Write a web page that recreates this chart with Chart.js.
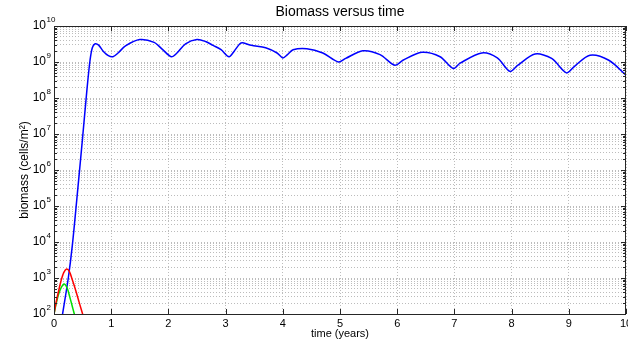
<!DOCTYPE html>
<html>
<head>
<meta charset="utf-8">
<script src="https://cdn.jsdelivr.net/npm/chart.js@4"></script>
<style>
  html, body { margin: 0; padding: 0; background: #fff; }
  #wrap { width: 628px; height: 346px; }
</style>
</head>
<body>
<div id="wrap"><canvas id="biomassChart"></canvas></div>
<script>
const fontFamily = "'Liberation Sans', Arial, Helvetica, sans-serif";

// axis ticks
const timeTicks = [0, 1, 2, 3, 4, 5, 6, 7, 8, 9, 10];
const decades = [2, 3, 4, 5, 6, 7, 8, 9, 10]; // exponents labelled on the log axis
const minorSteps = [1, 2, 3, 4, 5, 6, 7, 8, 9];

// blue population (cells/m^2)
const blueTime = [0.13, 0.15, 0.25, 0.32, 0.40, 0.50, 0.58, 0.63, 0.67, 0.72, 0.78, 0.86, 0.95, 1.03, 1.12, 1.25,
  1.5, 1.75, 1.9, 2.05, 2.15, 2.3, 2.5, 2.65, 2.78, 2.92, 3.06, 3.15, 3.25, 3.3, 3.45, 3.7, 3.9, 4.0, 4.08, 4.18,
  4.42, 4.7, 4.97, 5.1, 5.4, 5.7, 5.96, 6.1, 6.43, 6.75, 6.98, 7.1, 7.48, 7.75, 7.97, 8.1, 8.41, 8.7, 8.96, 9.1,
  9.37, 9.7, 10.0];
const blueBiomass = [63, 100, 1000, 7900, 1.6e5, 7.9e6, 2.0e8, 1.12e9, 2.5e9, 3.2e9, 2.95e9, 2.0e9, 1.5e9, 1.4e9, 1.78e9, 2.8e9,
  4.2e9, 3.5e9, 2.2e9, 1.4e9, 1.78e9, 3.2e9, 4.2e9, 3.7e9, 2.9e9, 2.2e9, 1.4e9, 2.0e9, 3.2e9, 3.4e9, 2.9e9, 2.5e9, 1.78e9, 1.3e9, 1.6e9, 2.2e9,
  2.35e9, 1.78e9, 1.0e9, 1.26e9, 2.05e9, 1.6e9, 8.1e8, 1.12e9, 1.86e9, 1.4e9, 6.6e8, 9.3e8, 1.78e9, 1.3e9, 5.5e8, 7.9e8, 1.66e9, 1.26e9, 5.0e8, 7.6e8,
  1.55e9, 1.12e9, 4.3e8];

// red population
const redTime = [0, 0.04, 0.075, 0.12, 0.17, 0.22, 0.27, 0.32, 0.38, 0.44, 0.5, 0.53];
const redBiomass = [100, 224, 400, 800, 1410, 1780, 1510, 890, 450, 210, 100, 63];

// green population
const greenTime = [0, 0.04, 0.08, 0.13, 0.18, 0.23, 0.28, 0.33, 0.355, 0.38];
const greenBiomass = [100, 200, 355, 560, 680, 525, 280, 141, 100, 71];

function toPoints(times, values) {
  return times.map((t, i) => ({ x: t, y: values[i] }));
}

function isDecade(v) {
  const e = Math.log10(v);
  return Math.abs(e - Math.round(e)) < 1e-9;
}

// MATLAB-like box, inward ticks, 10^n labels and title
const matlabAxes = {
  id: "matlabAxes",
  afterDraw(chart) {
    const { ctx, chartArea: a, scales } = chart;
    const x = scales.x, y = scales.y;
    ctx.save();
    ctx.strokeStyle = "#262626";
    ctx.lineWidth = 1;
    ctx.beginPath();
    y.ticks.forEach((t) => {
      const py = Math.round(y.getPixelForValue(t.value)) + 0.5;
      const len = isDecade(t.value) ? 5 : 3;
      ctx.moveTo(a.left, py); ctx.lineTo(a.left + len, py);
      ctx.moveTo(a.right, py); ctx.lineTo(a.right - len, py);
    });
    x.ticks.forEach((t) => {
      const px = Math.round(x.getPixelForValue(t.value)) + 0.5;
      ctx.moveTo(px, a.bottom); ctx.lineTo(px, a.bottom - 5);
      ctx.moveTo(px, a.top); ctx.lineTo(px, a.top + 5);
    });
    ctx.stroke();
    ctx.strokeRect(Math.round(a.left) + 0.5, Math.round(a.top) + 0.5,
      Math.round(a.right - a.left) - 1, Math.round(a.bottom - a.top));

    // y tick labels: 10 with exponent
    ctx.fillStyle = "#000";
    ctx.textBaseline = "middle";
    decades.forEach((e) => {
      const py = y.getPixelForValue(Math.pow(10, e));
      ctx.font = "12px " + fontFamily;
      ctx.textAlign = "right";
      ctx.fillText("10", a.left - 8, py);
      ctx.font = "8px " + fontFamily;
      ctx.textAlign = "left";
      ctx.fillText(String(e), a.left - 7.5, py - 6);
    });

    // title
    ctx.font = "14px " + fontFamily;
    ctx.textAlign = "center";
    ctx.fillText("Biomass versus time", (a.left + a.right) / 2, 12);
    ctx.restore();
  },
};

const gridColor = "#bcbcbc";

new Chart(document.getElementById("biomassChart").getContext("2d"), {
  type: "line",
  data: {
    datasets: [
      { label: "red", data: toPoints(redTime, redBiomass), borderColor: "#ff0000", borderWidth: 1.5, pointRadius: 0, tension: 0.3 },
      { label: "green", data: toPoints(greenTime, greenBiomass), borderColor: "#00e000", borderWidth: 1.5, pointRadius: 0, tension: 0.3 },
      { label: "blue", data: toPoints(blueTime, blueBiomass), borderColor: "#0000ff", borderWidth: 1.5, pointRadius: 0, tension: 0.3 },
    ],
  },
  options: {
    responsive: true,
    maintainAspectRatio: false,
    animation: false,
    layout: { padding: { top: 26, right: 2, left: 0, bottom: 0 } },
    plugins: {
      legend: { display: false },
      tooltip: { enabled: false },
      title: { display: false },
    },
    scales: {
      x: {
        type: "linear",
        min: 0,
        max: 10,
        afterBuildTicks: (scale) => {
          scale.ticks = timeTicks.map((v) => ({ value: v }));
        },
        afterFit: (scale) => {
          scale.height = 32;
          scale.paddingLeft = 0;
          scale.paddingRight = 0;
        },
        ticks: {
          color: "#000",
          font: { family: fontFamily, size: 11 },
          padding: 3,
          maxRotation: 0,
          autoSkip: false,
        },
        grid: { color: gridColor, drawTicks: false },
        border: { display: false, dash: [1, 2] },
        title: {
          display: true,
          text: "time (years)",
          color: "#000",
          font: { family: fontFamily, size: 11 },
          padding: { top: 0, bottom: 5 },
        },
      },
      y: {
        type: "logarithmic",
        min: 100,
        max: 1e10,
        afterBuildTicks: (scale) => {
          const ticks = [];
          decades.forEach((e) => {
            if (e === 10) { ticks.push({ value: 1e10 }); return; }
            minorSteps.forEach((m) => ticks.push({ value: m * Math.pow(10, e) }));
          });
          scale.ticks = ticks;
        },
        afterFit: (scale) => {
          scale.width = 54;
          scale.paddingTop = 0;
          scale.paddingBottom = 0;
        },
        ticks: { display: false },
        grid: { color: gridColor, drawTicks: false },
        border: { display: false, dash: [1, 2] },
        title: {
          display: true,
          text: "biomass (cells/m²)",
          color: "#000",
          font: { family: fontFamily, size: 12 },
          padding: { top: 17, bottom: 0 },
        },
      },
    },
  },
  plugins: [matlabAxes],
});
</script>
</body>
</html>
